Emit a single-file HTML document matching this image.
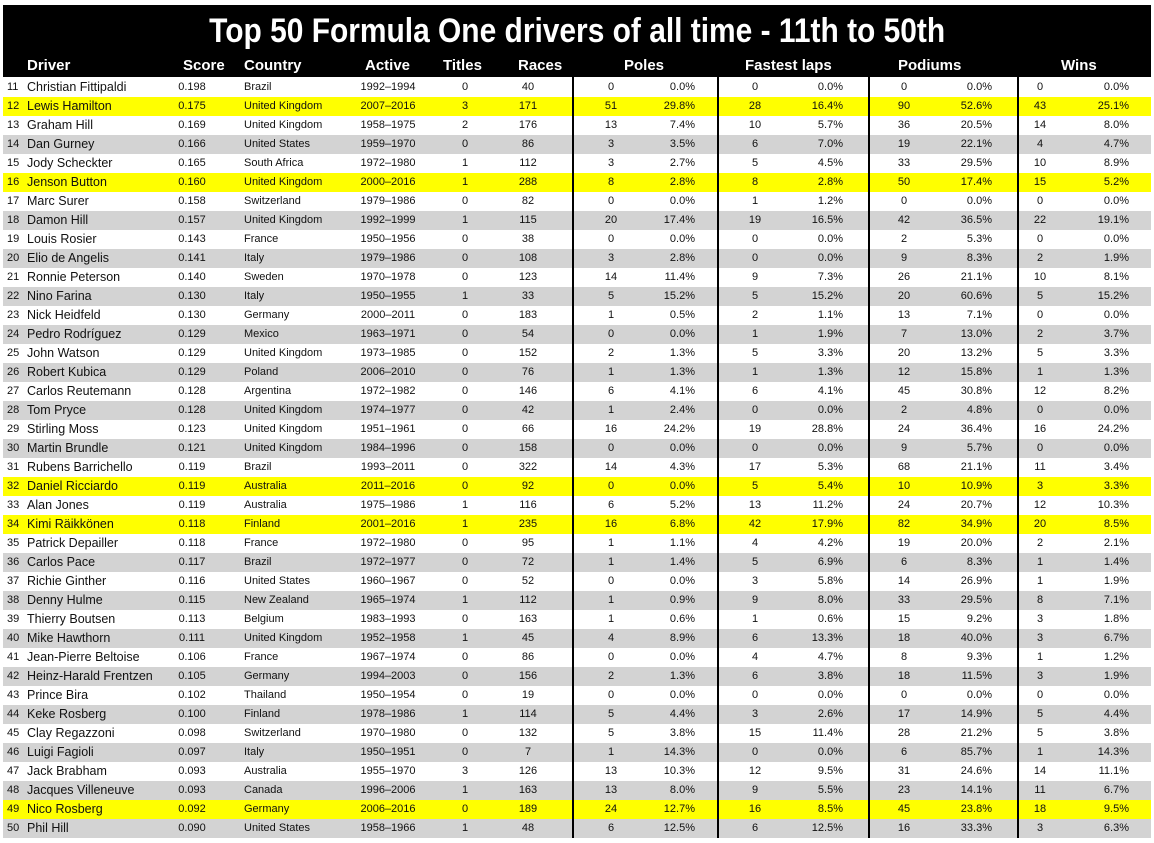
<!DOCTYPE html>
<html><head><meta charset="utf-8"><style>
body{margin:0;width:1154px;height:843px;background:#fff;font-family:"Liberation Sans",sans-serif;position:relative;overflow:hidden}
#top{position:absolute;left:3px;top:5px;width:1148px;height:72px;background:#000}
#title{position:absolute;left:0;top:9px;width:1154px;text-align:center;color:#fff;font-size:34px;line-height:44px;font-weight:bold}
#title span{display:inline-block;transform:scaleX(0.88)}
.h{position:absolute;top:56px;color:#fff;font-weight:bold;font-size:15px;line-height:20px;white-space:nowrap}
.r{position:absolute;left:3px;width:1148px;height:19px;font-size:11px;line-height:19px;color:#111}
.r.g{background:#d3d3d3}.r.y{background:#ffff00}
.r span{position:absolute;white-space:nowrap}
.a{left:4px}.b{left:24px;font-size:12.5px}.c{left:174px;width:30px;text-align:center}
.d{left:241px}.e{left:355px;width:60px;text-align:center}.f{left:455px;width:14px;text-align:center}
.k{left:505px;width:40px;text-align:center}
.p1{left:590px;width:36px;text-align:center}.p2{left:652px;width:40px;text-align:right}
.q1{left:734px;width:36px;text-align:center}.q2{left:800px;width:40px;text-align:right}
.s1{left:883px;width:36px;text-align:center}.s2{left:949px;width:40px;text-align:right}
.w1{left:1019px;width:36px;text-align:center}.w2{left:1086px;width:40px;text-align:right}
.v{position:absolute;top:77px;height:761px;width:2px;background:#000}
</style></head><body>
<div id="top"></div>
<div id="title"><span>Top 50 Formula One drivers of all time - 11th to 50th</span></div>
<div class="h" style="left:27px">Driver</div>
<div class="h" style="left:183px">Score</div>
<div class="h" style="left:244px">Country</div>
<div class="h" style="left:365px">Active</div>
<div class="h" style="left:443px">Titles</div>
<div class="h" style="left:518px">Races</div>
<div class="h" style="left:624px">Poles</div>
<div class="h" style="left:745px">Fastest laps</div>
<div class="h" style="left:898px">Podiums</div>
<div class="h" style="left:1061px">Wins</div>

<div class="r" style="top:78px"><span class="a">11</span><span class="b">Christian Fittipaldi</span><span class="c">0.198</span><span class="d">Brazil</span><span class="e">1992–1994</span><span class="f">0</span><span class="k">40</span><span class="p1">0</span><span class="p2">0.0%</span><span class="q1">0</span><span class="q2">0.0%</span><span class="s1">0</span><span class="s2">0.0%</span><span class="w1">0</span><span class="w2">0.0%</span></div>
<div class="r y" style="top:97px"><span class="a">12</span><span class="b">Lewis Hamilton</span><span class="c">0.175</span><span class="d">United Kingdom</span><span class="e">2007–2016</span><span class="f">3</span><span class="k">171</span><span class="p1">51</span><span class="p2">29.8%</span><span class="q1">28</span><span class="q2">16.4%</span><span class="s1">90</span><span class="s2">52.6%</span><span class="w1">43</span><span class="w2">25.1%</span></div>
<div class="r" style="top:116px"><span class="a">13</span><span class="b">Graham Hill</span><span class="c">0.169</span><span class="d">United Kingdom</span><span class="e">1958–1975</span><span class="f">2</span><span class="k">176</span><span class="p1">13</span><span class="p2">7.4%</span><span class="q1">10</span><span class="q2">5.7%</span><span class="s1">36</span><span class="s2">20.5%</span><span class="w1">14</span><span class="w2">8.0%</span></div>
<div class="r g" style="top:135px"><span class="a">14</span><span class="b">Dan Gurney</span><span class="c">0.166</span><span class="d">United States</span><span class="e">1959–1970</span><span class="f">0</span><span class="k">86</span><span class="p1">3</span><span class="p2">3.5%</span><span class="q1">6</span><span class="q2">7.0%</span><span class="s1">19</span><span class="s2">22.1%</span><span class="w1">4</span><span class="w2">4.7%</span></div>
<div class="r" style="top:154px"><span class="a">15</span><span class="b">Jody Scheckter</span><span class="c">0.165</span><span class="d">South Africa</span><span class="e">1972–1980</span><span class="f">1</span><span class="k">112</span><span class="p1">3</span><span class="p2">2.7%</span><span class="q1">5</span><span class="q2">4.5%</span><span class="s1">33</span><span class="s2">29.5%</span><span class="w1">10</span><span class="w2">8.9%</span></div>
<div class="r y" style="top:173px"><span class="a">16</span><span class="b">Jenson Button</span><span class="c">0.160</span><span class="d">United Kingdom</span><span class="e">2000–2016</span><span class="f">1</span><span class="k">288</span><span class="p1">8</span><span class="p2">2.8%</span><span class="q1">8</span><span class="q2">2.8%</span><span class="s1">50</span><span class="s2">17.4%</span><span class="w1">15</span><span class="w2">5.2%</span></div>
<div class="r" style="top:192px"><span class="a">17</span><span class="b">Marc Surer</span><span class="c">0.158</span><span class="d">Switzerland</span><span class="e">1979–1986</span><span class="f">0</span><span class="k">82</span><span class="p1">0</span><span class="p2">0.0%</span><span class="q1">1</span><span class="q2">1.2%</span><span class="s1">0</span><span class="s2">0.0%</span><span class="w1">0</span><span class="w2">0.0%</span></div>
<div class="r g" style="top:211px"><span class="a">18</span><span class="b">Damon Hill</span><span class="c">0.157</span><span class="d">United Kingdom</span><span class="e">1992–1999</span><span class="f">1</span><span class="k">115</span><span class="p1">20</span><span class="p2">17.4%</span><span class="q1">19</span><span class="q2">16.5%</span><span class="s1">42</span><span class="s2">36.5%</span><span class="w1">22</span><span class="w2">19.1%</span></div>
<div class="r" style="top:230px"><span class="a">19</span><span class="b">Louis Rosier</span><span class="c">0.143</span><span class="d">France</span><span class="e">1950–1956</span><span class="f">0</span><span class="k">38</span><span class="p1">0</span><span class="p2">0.0%</span><span class="q1">0</span><span class="q2">0.0%</span><span class="s1">2</span><span class="s2">5.3%</span><span class="w1">0</span><span class="w2">0.0%</span></div>
<div class="r g" style="top:249px"><span class="a">20</span><span class="b">Elio de Angelis</span><span class="c">0.141</span><span class="d">Italy</span><span class="e">1979–1986</span><span class="f">0</span><span class="k">108</span><span class="p1">3</span><span class="p2">2.8%</span><span class="q1">0</span><span class="q2">0.0%</span><span class="s1">9</span><span class="s2">8.3%</span><span class="w1">2</span><span class="w2">1.9%</span></div>
<div class="r" style="top:268px"><span class="a">21</span><span class="b">Ronnie Peterson</span><span class="c">0.140</span><span class="d">Sweden</span><span class="e">1970–1978</span><span class="f">0</span><span class="k">123</span><span class="p1">14</span><span class="p2">11.4%</span><span class="q1">9</span><span class="q2">7.3%</span><span class="s1">26</span><span class="s2">21.1%</span><span class="w1">10</span><span class="w2">8.1%</span></div>
<div class="r g" style="top:287px"><span class="a">22</span><span class="b">Nino Farina</span><span class="c">0.130</span><span class="d">Italy</span><span class="e">1950–1955</span><span class="f">1</span><span class="k">33</span><span class="p1">5</span><span class="p2">15.2%</span><span class="q1">5</span><span class="q2">15.2%</span><span class="s1">20</span><span class="s2">60.6%</span><span class="w1">5</span><span class="w2">15.2%</span></div>
<div class="r" style="top:306px"><span class="a">23</span><span class="b">Nick Heidfeld</span><span class="c">0.130</span><span class="d">Germany</span><span class="e">2000–2011</span><span class="f">0</span><span class="k">183</span><span class="p1">1</span><span class="p2">0.5%</span><span class="q1">2</span><span class="q2">1.1%</span><span class="s1">13</span><span class="s2">7.1%</span><span class="w1">0</span><span class="w2">0.0%</span></div>
<div class="r g" style="top:325px"><span class="a">24</span><span class="b">Pedro Rodríguez</span><span class="c">0.129</span><span class="d">Mexico</span><span class="e">1963–1971</span><span class="f">0</span><span class="k">54</span><span class="p1">0</span><span class="p2">0.0%</span><span class="q1">1</span><span class="q2">1.9%</span><span class="s1">7</span><span class="s2">13.0%</span><span class="w1">2</span><span class="w2">3.7%</span></div>
<div class="r" style="top:344px"><span class="a">25</span><span class="b">John Watson</span><span class="c">0.129</span><span class="d">United Kingdom</span><span class="e">1973–1985</span><span class="f">0</span><span class="k">152</span><span class="p1">2</span><span class="p2">1.3%</span><span class="q1">5</span><span class="q2">3.3%</span><span class="s1">20</span><span class="s2">13.2%</span><span class="w1">5</span><span class="w2">3.3%</span></div>
<div class="r g" style="top:363px"><span class="a">26</span><span class="b">Robert Kubica</span><span class="c">0.129</span><span class="d">Poland</span><span class="e">2006–2010</span><span class="f">0</span><span class="k">76</span><span class="p1">1</span><span class="p2">1.3%</span><span class="q1">1</span><span class="q2">1.3%</span><span class="s1">12</span><span class="s2">15.8%</span><span class="w1">1</span><span class="w2">1.3%</span></div>
<div class="r" style="top:382px"><span class="a">27</span><span class="b">Carlos Reutemann</span><span class="c">0.128</span><span class="d">Argentina</span><span class="e">1972–1982</span><span class="f">0</span><span class="k">146</span><span class="p1">6</span><span class="p2">4.1%</span><span class="q1">6</span><span class="q2">4.1%</span><span class="s1">45</span><span class="s2">30.8%</span><span class="w1">12</span><span class="w2">8.2%</span></div>
<div class="r g" style="top:401px"><span class="a">28</span><span class="b">Tom Pryce</span><span class="c">0.128</span><span class="d">United Kingdom</span><span class="e">1974–1977</span><span class="f">0</span><span class="k">42</span><span class="p1">1</span><span class="p2">2.4%</span><span class="q1">0</span><span class="q2">0.0%</span><span class="s1">2</span><span class="s2">4.8%</span><span class="w1">0</span><span class="w2">0.0%</span></div>
<div class="r" style="top:420px"><span class="a">29</span><span class="b">Stirling Moss</span><span class="c">0.123</span><span class="d">United Kingdom</span><span class="e">1951–1961</span><span class="f">0</span><span class="k">66</span><span class="p1">16</span><span class="p2">24.2%</span><span class="q1">19</span><span class="q2">28.8%</span><span class="s1">24</span><span class="s2">36.4%</span><span class="w1">16</span><span class="w2">24.2%</span></div>
<div class="r g" style="top:439px"><span class="a">30</span><span class="b">Martin Brundle</span><span class="c">0.121</span><span class="d">United Kingdom</span><span class="e">1984–1996</span><span class="f">0</span><span class="k">158</span><span class="p1">0</span><span class="p2">0.0%</span><span class="q1">0</span><span class="q2">0.0%</span><span class="s1">9</span><span class="s2">5.7%</span><span class="w1">0</span><span class="w2">0.0%</span></div>
<div class="r" style="top:458px"><span class="a">31</span><span class="b">Rubens Barrichello</span><span class="c">0.119</span><span class="d">Brazil</span><span class="e">1993–2011</span><span class="f">0</span><span class="k">322</span><span class="p1">14</span><span class="p2">4.3%</span><span class="q1">17</span><span class="q2">5.3%</span><span class="s1">68</span><span class="s2">21.1%</span><span class="w1">11</span><span class="w2">3.4%</span></div>
<div class="r y" style="top:477px"><span class="a">32</span><span class="b">Daniel Ricciardo</span><span class="c">0.119</span><span class="d">Australia</span><span class="e">2011–2016</span><span class="f">0</span><span class="k">92</span><span class="p1">0</span><span class="p2">0.0%</span><span class="q1">5</span><span class="q2">5.4%</span><span class="s1">10</span><span class="s2">10.9%</span><span class="w1">3</span><span class="w2">3.3%</span></div>
<div class="r" style="top:496px"><span class="a">33</span><span class="b">Alan Jones</span><span class="c">0.119</span><span class="d">Australia</span><span class="e">1975–1986</span><span class="f">1</span><span class="k">116</span><span class="p1">6</span><span class="p2">5.2%</span><span class="q1">13</span><span class="q2">11.2%</span><span class="s1">24</span><span class="s2">20.7%</span><span class="w1">12</span><span class="w2">10.3%</span></div>
<div class="r y" style="top:515px"><span class="a">34</span><span class="b">Kimi Räikkönen</span><span class="c">0.118</span><span class="d">Finland</span><span class="e">2001–2016</span><span class="f">1</span><span class="k">235</span><span class="p1">16</span><span class="p2">6.8%</span><span class="q1">42</span><span class="q2">17.9%</span><span class="s1">82</span><span class="s2">34.9%</span><span class="w1">20</span><span class="w2">8.5%</span></div>
<div class="r" style="top:534px"><span class="a">35</span><span class="b">Patrick Depailler</span><span class="c">0.118</span><span class="d">France</span><span class="e">1972–1980</span><span class="f">0</span><span class="k">95</span><span class="p1">1</span><span class="p2">1.1%</span><span class="q1">4</span><span class="q2">4.2%</span><span class="s1">19</span><span class="s2">20.0%</span><span class="w1">2</span><span class="w2">2.1%</span></div>
<div class="r g" style="top:553px"><span class="a">36</span><span class="b">Carlos Pace</span><span class="c">0.117</span><span class="d">Brazil</span><span class="e">1972–1977</span><span class="f">0</span><span class="k">72</span><span class="p1">1</span><span class="p2">1.4%</span><span class="q1">5</span><span class="q2">6.9%</span><span class="s1">6</span><span class="s2">8.3%</span><span class="w1">1</span><span class="w2">1.4%</span></div>
<div class="r" style="top:572px"><span class="a">37</span><span class="b">Richie Ginther</span><span class="c">0.116</span><span class="d">United States</span><span class="e">1960–1967</span><span class="f">0</span><span class="k">52</span><span class="p1">0</span><span class="p2">0.0%</span><span class="q1">3</span><span class="q2">5.8%</span><span class="s1">14</span><span class="s2">26.9%</span><span class="w1">1</span><span class="w2">1.9%</span></div>
<div class="r g" style="top:591px"><span class="a">38</span><span class="b">Denny Hulme</span><span class="c">0.115</span><span class="d">New Zealand</span><span class="e">1965–1974</span><span class="f">1</span><span class="k">112</span><span class="p1">1</span><span class="p2">0.9%</span><span class="q1">9</span><span class="q2">8.0%</span><span class="s1">33</span><span class="s2">29.5%</span><span class="w1">8</span><span class="w2">7.1%</span></div>
<div class="r" style="top:610px"><span class="a">39</span><span class="b">Thierry Boutsen</span><span class="c">0.113</span><span class="d">Belgium</span><span class="e">1983–1993</span><span class="f">0</span><span class="k">163</span><span class="p1">1</span><span class="p2">0.6%</span><span class="q1">1</span><span class="q2">0.6%</span><span class="s1">15</span><span class="s2">9.2%</span><span class="w1">3</span><span class="w2">1.8%</span></div>
<div class="r g" style="top:629px"><span class="a">40</span><span class="b">Mike Hawthorn</span><span class="c">0.111</span><span class="d">United Kingdom</span><span class="e">1952–1958</span><span class="f">1</span><span class="k">45</span><span class="p1">4</span><span class="p2">8.9%</span><span class="q1">6</span><span class="q2">13.3%</span><span class="s1">18</span><span class="s2">40.0%</span><span class="w1">3</span><span class="w2">6.7%</span></div>
<div class="r" style="top:648px"><span class="a">41</span><span class="b">Jean-Pierre Beltoise</span><span class="c">0.106</span><span class="d">France</span><span class="e">1967–1974</span><span class="f">0</span><span class="k">86</span><span class="p1">0</span><span class="p2">0.0%</span><span class="q1">4</span><span class="q2">4.7%</span><span class="s1">8</span><span class="s2">9.3%</span><span class="w1">1</span><span class="w2">1.2%</span></div>
<div class="r g" style="top:667px"><span class="a">42</span><span class="b">Heinz-Harald Frentzen</span><span class="c">0.105</span><span class="d">Germany</span><span class="e">1994–2003</span><span class="f">0</span><span class="k">156</span><span class="p1">2</span><span class="p2">1.3%</span><span class="q1">6</span><span class="q2">3.8%</span><span class="s1">18</span><span class="s2">11.5%</span><span class="w1">3</span><span class="w2">1.9%</span></div>
<div class="r" style="top:686px"><span class="a">43</span><span class="b">Prince Bira</span><span class="c">0.102</span><span class="d">Thailand</span><span class="e">1950–1954</span><span class="f">0</span><span class="k">19</span><span class="p1">0</span><span class="p2">0.0%</span><span class="q1">0</span><span class="q2">0.0%</span><span class="s1">0</span><span class="s2">0.0%</span><span class="w1">0</span><span class="w2">0.0%</span></div>
<div class="r g" style="top:705px"><span class="a">44</span><span class="b">Keke Rosberg</span><span class="c">0.100</span><span class="d">Finland</span><span class="e">1978–1986</span><span class="f">1</span><span class="k">114</span><span class="p1">5</span><span class="p2">4.4%</span><span class="q1">3</span><span class="q2">2.6%</span><span class="s1">17</span><span class="s2">14.9%</span><span class="w1">5</span><span class="w2">4.4%</span></div>
<div class="r" style="top:724px"><span class="a">45</span><span class="b">Clay Regazzoni</span><span class="c">0.098</span><span class="d">Switzerland</span><span class="e">1970–1980</span><span class="f">0</span><span class="k">132</span><span class="p1">5</span><span class="p2">3.8%</span><span class="q1">15</span><span class="q2">11.4%</span><span class="s1">28</span><span class="s2">21.2%</span><span class="w1">5</span><span class="w2">3.8%</span></div>
<div class="r g" style="top:743px"><span class="a">46</span><span class="b">Luigi Fagioli</span><span class="c">0.097</span><span class="d">Italy</span><span class="e">1950–1951</span><span class="f">0</span><span class="k">7</span><span class="p1">1</span><span class="p2">14.3%</span><span class="q1">0</span><span class="q2">0.0%</span><span class="s1">6</span><span class="s2">85.7%</span><span class="w1">1</span><span class="w2">14.3%</span></div>
<div class="r" style="top:762px"><span class="a">47</span><span class="b">Jack Brabham</span><span class="c">0.093</span><span class="d">Australia</span><span class="e">1955–1970</span><span class="f">3</span><span class="k">126</span><span class="p1">13</span><span class="p2">10.3%</span><span class="q1">12</span><span class="q2">9.5%</span><span class="s1">31</span><span class="s2">24.6%</span><span class="w1">14</span><span class="w2">11.1%</span></div>
<div class="r g" style="top:781px"><span class="a">48</span><span class="b">Jacques Villeneuve</span><span class="c">0.093</span><span class="d">Canada</span><span class="e">1996–2006</span><span class="f">1</span><span class="k">163</span><span class="p1">13</span><span class="p2">8.0%</span><span class="q1">9</span><span class="q2">5.5%</span><span class="s1">23</span><span class="s2">14.1%</span><span class="w1">11</span><span class="w2">6.7%</span></div>
<div class="r y" style="top:800px"><span class="a">49</span><span class="b">Nico Rosberg</span><span class="c">0.092</span><span class="d">Germany</span><span class="e">2006–2016</span><span class="f">0</span><span class="k">189</span><span class="p1">24</span><span class="p2">12.7%</span><span class="q1">16</span><span class="q2">8.5%</span><span class="s1">45</span><span class="s2">23.8%</span><span class="w1">18</span><span class="w2">9.5%</span></div>
<div class="r g" style="top:819px"><span class="a">50</span><span class="b">Phil Hill</span><span class="c">0.090</span><span class="d">United States</span><span class="e">1958–1966</span><span class="f">1</span><span class="k">48</span><span class="p1">6</span><span class="p2">12.5%</span><span class="q1">6</span><span class="q2">12.5%</span><span class="s1">16</span><span class="s2">33.3%</span><span class="w1">3</span><span class="w2">6.3%</span></div>

<div class="v" style="left:572px"></div>
<div class="v" style="left:717px"></div>
<div class="v" style="left:868px"></div>
<div class="v" style="left:1017px"></div>
</body></html>
